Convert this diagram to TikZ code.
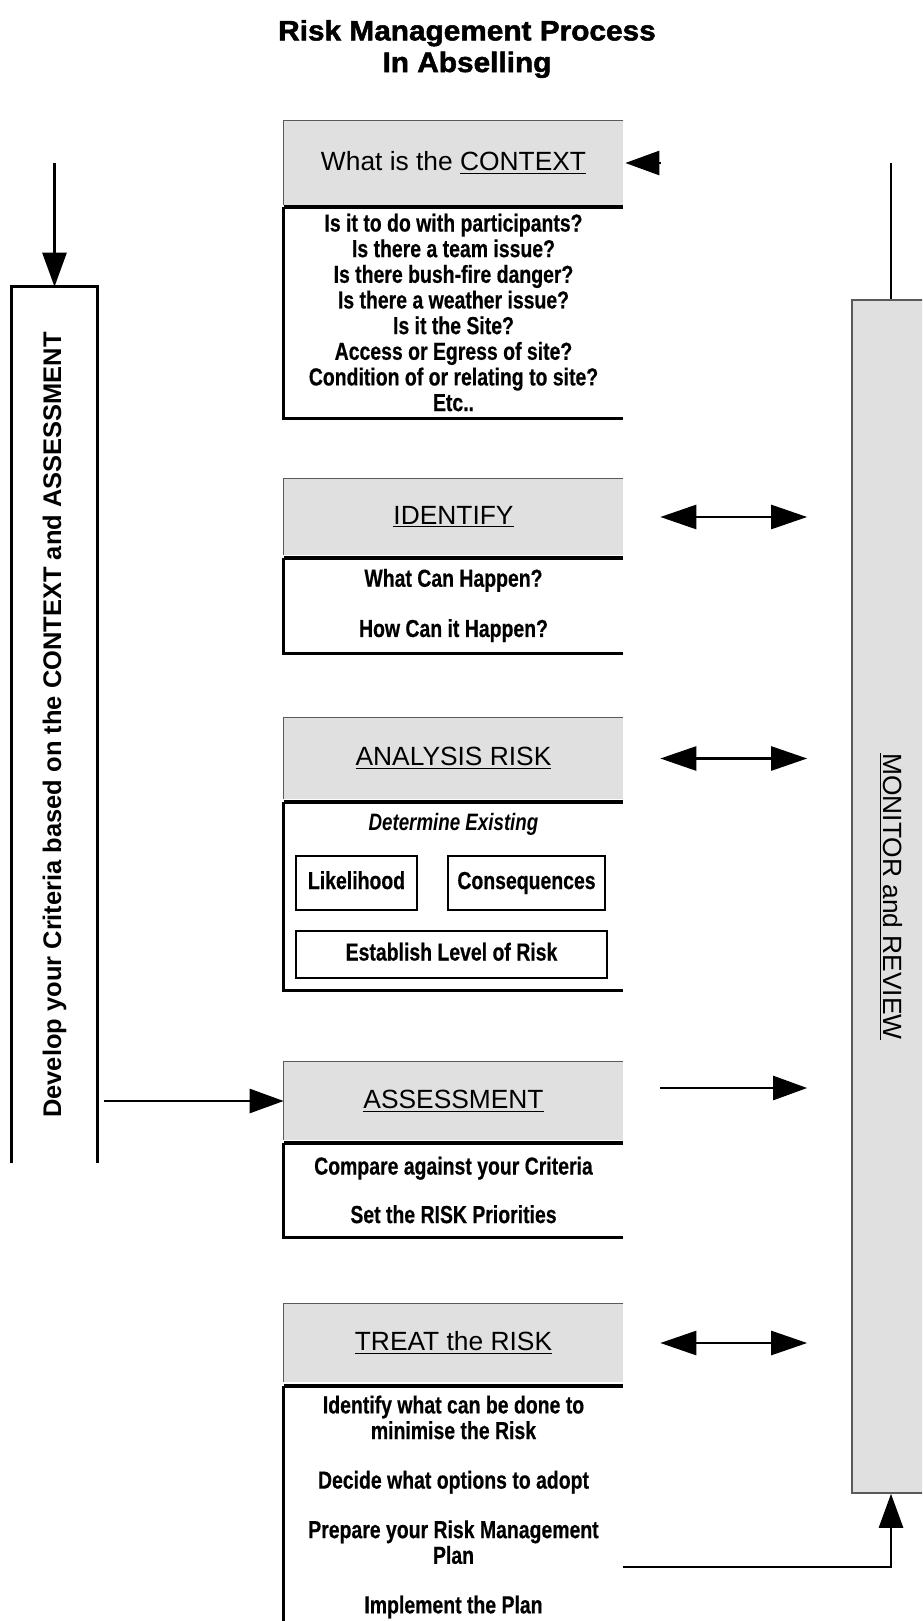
\documentclass[tikz,border=0pt]{standalone}
\usepackage{fontspec}
\setmainfont{Liberation Sans}
\newfontfamily\bodyfont[FakeStretch=0.79, BoldFeatures={FakeBold=0.5}]{Liberation Sans}
\newfontfamily\titlefont[FakeStretch=1.06, BoldFeatures={FakeBold=1.8}]{Liberation Sans}
\usetikzlibrary{arrows.meta,calc}

\definecolor{boxgray}{RGB}{224,224,224}
\definecolor{edgegray}{RGB}{90,90,90}

\tikzset{
	headbox/.style={fill=boxgray, minimum width=6.78cm, inner sep=0pt, font=\fontsize{15}{18}\selectfont},
	bodybox/.style={minimum width=6.78cm, inner sep=0pt, align=center, font=\bodyfont\bfseries\fontsize{14}{14.6}\selectfont},
	smallbox/.style={draw, line width=1.6pt, inner sep=0pt, text height=1.6ex, text depth=0.3ex, font=\bodyfont\bfseries\fontsize{14}{14.6}\selectfont},
	sarrow/.style={line width=1.5pt, -{Triangle[length=0.68cm, width=0.48cm]}},
	darrow/.style={line width=1.5pt, {Triangle[length=0.72cm, width=0.48cm]}-{Triangle[length=0.72cm, width=0.48cm]}},
}

\begin{document}
\begin{tikzpicture}[x=0.02cm, y=-0.02cm]

		\useasboundingbox (0,0) rectangle (922,1621);
		\clip (0,0) rectangle (922,1621);

		%title%
		\node[font=\titlefont\bfseries\fontsize{16}{18}\selectfont, align=center] (title) at (467,49) {Risk Management Process\\In Abselling};

		% context %
		\node[headbox, minimum height=1.68cm] (ctxhead) at (453.5,163) {What is the \underline{CONTEXT}};
		\node[bodybox, minimum height=4.22cm] (ctxbody) at (453.5,312.5) {Is it to do with participants?\\Is there a team issue?\\Is there bush-fire danger?\\Is there a weather issue?\\Is it the Site?\\Access or Egress of site?\\Condition of or relating to site?\\Etc..};

		% identify %
		\node[headbox, minimum height=1.52cm] (idhead) at (453.5,517) {\underline{IDENTIFY}};
		\node[bodybox, minimum height=1.90cm] (idbody) at (453.5,605.5) {What Can Happen?\\[14pt]How Can it Happen?};

		% analysis %
		\node[headbox, minimum height=1.62cm] (anhead) at (453.5,758.5) {\underline{ANALYSIS RISK}};
		\node[bodybox, minimum height=3.76cm] (anbody) at (453.5,896) {};
		\node[font=\bodyfont\bfseries\itshape\fontsize{13.5}{14}\selectfont] (exist) at (453.5,824) {Determine Existing};
		\node[smallbox, minimum width=2.42cm, minimum height=1.08cm] (likely) at (356.5,883) {Likelihood};
		\node[smallbox, minimum width=3.14cm, minimum height=1.08cm] (conseq) at (526.5,883) {Consequences};
		\node[smallbox, minimum width=6.22cm, minimum height=0.94cm] (level) at (451.5,954.5) {Establish Level of Risk};

		% assessment %
		\node[headbox, minimum height=1.56cm] (ashead) at (453.5,1101) {\underline{ASSESSMENT}};
		\node[bodybox, minimum height=1.88cm] (asbody) at (453.5,1190) {Compare against your Criteria\\[13pt]Set the RISK Priorities};

		% treat %
		\node[headbox, minimum height=1.56cm] (trhead) at (453.5,1343) {\underline{TREAT the RISK}};
		\node[bodybox, minimum height=4.82cm] (trbody) at (453.5,1507) {Identify what can be done to\\minimise the Risk\\[13.6pt]Decide what options to adopt\\[13.6pt]Prepare your Risk Management\\Plan\\[13.6pt]Implement the Plan};

		% box edges, open on the right %
		\foreach \h/\b in {ctxhead/ctxbody, idhead/idbody, anhead/anbody, ashead/asbody, trhead/trbody} {
			\draw[edgegray, line width=0.8pt] (\h.north east) -- (\h.north west) -- (\h.south west);
			\draw[line width=1.6pt] (\b.south east) -- (\b.south west) -- (\b.north west);
			\draw[line width=2.2pt] (\b.north west) -- (\b.north east);
		}

		% criteria column %
		\node[minimum width=1.7cm, minimum height=17.52cm] (crit) at (54.5,725) {};
		\draw[line width=1.7pt] (crit.south west) -- (crit.north west) -- (crit.north east) -- (crit.south east);
		\node[rotate=90, font=\bfseries\fontsize{14.5}{17}\selectfont] (crittext) at (crit.center) {Develop your Criteria based on the CONTEXT and ASSESSMENT};

		% monitor column %
		\node[fill=boxgray, draw=edgegray, line width=1pt, minimum width=1.56cm, minimum height=23.86cm] (monitor) at (891,896.5) {};
		\node[rotate=-90, font=\fontsize{15}{18}\selectfont] (montext) at (monitor.center) {\underline{MONITOR and REVIEW}};

		% arrows %
		\draw[sarrow] (crit.north |- ctxhead.center) -- (crit.north);
		\draw[line width=1.5pt] (monitor.north |- ctxhead.center) -- (monitor.north);
		\draw[sarrow] ($(ctxhead.east)+(38,0)$) -- ($(ctxhead.east)+(2,0)$);
		\draw[darrow, shorten <=0.74cm, shorten >=0.88cm] (idhead.east) -- (idhead.east -| monitor.west);
		\draw[darrow, shorten <=0.74cm, shorten >=0.88cm] (anhead.east) -- (anhead.east -| monitor.west);
		\draw[sarrow, shorten <=0.74cm, shorten >=0.88cm] ($(ashead.east)+(0,-13)$) -- ($(ashead.east -| monitor.west)+(0,-13)$);
		\draw[darrow, shorten <=0.74cm, shorten >=0.88cm] (trhead.east) -- (trhead.east -| monitor.west);
		\draw[sarrow, shorten <=0.14cm] (crit.east |- ashead.west) -- (ashead.west);
		\coordinate (planout) at (623,1567);
		\draw[sarrow] (planout) -| (monitor.south);

	\end{tikzpicture}
\end{document}
